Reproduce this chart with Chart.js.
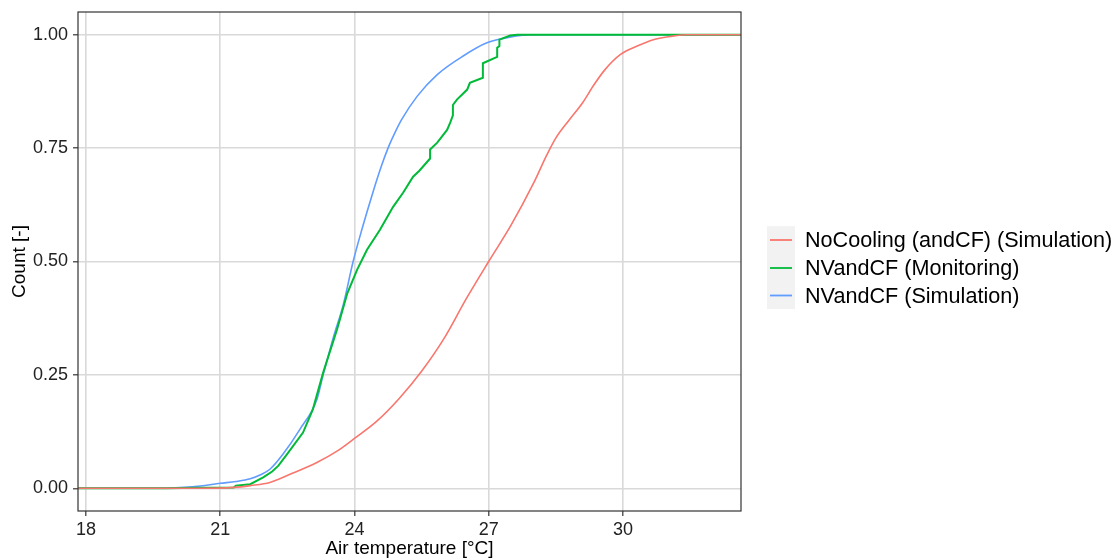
<!DOCTYPE html>
<html>
<head>
<meta charset="utf-8">
<script src="https://cdn.jsdelivr.net/npm/chart.js@4/dist/chart.umd.min.js"></script>
<style>
  html, body { margin: 0; padding: 0; background: #ffffff; }
  canvas { display: block; }
</style>
</head>
<body>
<canvas id="ecdf" width="1120" height="560"></canvas>
<script>
// Series names and colours
const seriesLabels = [
  'NoCooling (andCF) (Simulation)',
  'NVandCF (Monitoring)',
  'NVandCF (Simulation)'
];
const seriesColors = ['#F8766D', '#00BA38', '#619CFF'];

// Axis ticks
const xTicks = [18, 21, 24, 27, 30];
const yTicks = [0, 0.25, 0.5, 0.75, 1];

// NoCooling (andCF) (Simulation): air temperature [°C] and cumulative share
const noCoolingTemp  = [17.82, 20.5, 21.3, 21.67, 22.11, 22.56, 23.16, 23.61, 24.0, 24.5, 25.0, 25.5, 26.0, 26.5, 27.0, 27.5, 28.0, 28.3, 28.5, 28.8, 29.1, 29.35, 29.6, 29.94, 30.32, 30.68, 31.06, 31.44, 32.64];
const noCoolingCount = [0, 0, 0.002, 0.006, 0.013, 0.031, 0.057, 0.082, 0.110, 0.148, 0.198, 0.258, 0.330, 0.418, 0.500, 0.580, 0.672, 0.735, 0.772, 0.812, 0.850, 0.889, 0.923, 0.956, 0.975, 0.989, 0.996, 1.0, 1.0];

// NVandCF (Monitoring): measured values, with the visible jumps kept as vertical steps
const nvMonTemp  = [17.82, 19.8, 20.5, 21.30, 21.35, 21.67, 21.96, 22.16, 22.30, 22.49, 22.85, 23.07, 23.30, 23.61, 23.84, 24.06, 24.28, 24.57, 24.86, 25.09, 25.31, 25.45, 25.69, 25.69, 25.85, 26.07, 26.14, 26.20, 26.20, 26.29, 26.52, 26.58, 26.87, 26.87, 27.19, 27.19, 27.24, 27.24, 27.48, 27.64, 32.64];
const nvMonCount = [0, 0, 0.001, 0.002, 0.006, 0.009, 0.024, 0.037, 0.050, 0.075, 0.123, 0.174, 0.255, 0.350, 0.430, 0.482, 0.526, 0.570, 0.620, 0.652, 0.687, 0.700, 0.727, 0.747, 0.762, 0.790, 0.806, 0.822, 0.845, 0.857, 0.879, 0.894, 0.905, 0.937, 0.951, 0.971, 0.975, 0.989, 0.998, 1.0, 1.0];

// NVandCF (Simulation)
const nvSimTemp  = [17.82, 19.6, 20.2, 20.55, 21.0, 21.35, 21.67, 21.9, 22.11, 22.40, 22.78, 23.16, 23.30, 23.52, 23.75, 23.97, 24.17, 24.42, 24.60, 24.75, 24.90, 25.05, 25.40, 25.85, 26.43, 26.96, 27.55, 27.93, 32.64];
const nvSimCount = [0, 0, 0.002, 0.005, 0.011, 0.015, 0.021, 0.030, 0.042, 0.075, 0.130, 0.196, 0.250, 0.330, 0.405, 0.500, 0.572, 0.655, 0.710, 0.750, 0.783, 0.812, 0.864, 0.912, 0.953, 0.982, 0.996, 1.0, 1.0];

const toPoints = (xs, ys) => xs.map((x, i) => ({ x: x, y: ys[i] }));

const FONT = "'Liberation Sans', Arial, Helvetica, sans-serif";

// Panel frame and the legend to the right of the panel
const panelAndLegend = {
  id: 'panelAndLegend',
  afterDatasetsDraw(chart) {
    const { ctx, chartArea: a } = chart;
    ctx.save();
    ctx.strokeStyle = '#333333';
    ctx.lineWidth = 1.2;
    ctx.strokeRect(a.left, a.top, a.right - a.left, a.bottom - a.top);
    ctx.restore();
  },
  afterDraw(chart) {
    const { ctx } = chart;
    const keyLeft = 767, keyRight = 795;
    const rowCenters = [240, 268, 295.5];
    const rowH = 27.6;
    ctx.save();
    ctx.fillStyle = '#f2f2f2';
    ctx.fillRect(keyLeft, rowCenters[0] - rowH / 2, keyRight - keyLeft, rowH * 3);
    chart.data.datasets.forEach((ds, i) => {
      const cy = rowCenters[i];
      ctx.strokeStyle = ds.borderColor;
      ctx.lineWidth = 1.8;
      ctx.beginPath();
      ctx.moveTo(keyLeft + 3, cy);
      ctx.lineTo(keyRight - 3, cy);
      ctx.stroke();
      ctx.fillStyle = '#000000';
      ctx.font = '21.6px ' + FONT;
      ctx.textAlign = 'left';
      ctx.textBaseline = 'alphabetic';
      ctx.fillText(ds.label, 805, cy + 7);
    });
    ctx.restore();
  }
};

new Chart(document.getElementById('ecdf'), {
  type: 'line',
  data: {
    datasets: [
      {
        label: seriesLabels[0],
        data: toPoints(noCoolingTemp, noCoolingCount),
        borderColor: seriesColors[0],
        borderWidth: 1.6,
        cubicInterpolationMode: 'monotone',
        pointRadius: 0
      },
      {
        label: seriesLabels[1],
        data: toPoints(nvMonTemp, nvMonCount),
        borderColor: seriesColors[1],
        borderWidth: 2,
        tension: 0,
        pointRadius: 0
      },
      {
        label: seriesLabels[2],
        data: toPoints(nvSimTemp, nvSimCount),
        borderColor: seriesColors[2],
        borderWidth: 1.6,
        cubicInterpolationMode: 'monotone',
        pointRadius: 0
      }
    ]
  },
  options: {
    responsive: false,
    animation: false,
    devicePixelRatio: 1,
    layout: { padding: { left: 0, top: 12, right: 379, bottom: 0 } },
    plugins: {
      legend: { display: false },
      tooltip: { enabled: false }
    },
    scales: {
      x: {
        type: 'linear',
        min: 17.82,
        max: 32.64,
        afterBuildTicks: (scale) => { scale.ticks = xTicks.map(v => ({ value: v })); },
        afterFit: (scale) => {
          scale.height = 49;
          scale.paddingLeft = 0;
          scale.paddingRight = 0;
        },
        border: { display: false },
        grid: {
          color: '#d9d9d9',
          lineWidth: 1.6,
          drawTicks: true,
          tickLength: 5,
          tickColor: '#333333',
          tickWidth: 1.2
        },
        ticks: {
          padding: 3,
          color: '#222222',
          font: { family: FONT, size: 18 },
          maxRotation: 0,
          callback: (v) => String(v)
        },
        title: {
          display: true,
          text: 'Air temperature [°C]',
          color: '#000000',
          font: { family: FONT, size: 19 },
          padding: { top: 0, bottom: 0 }
        }
      },
      y: {
        type: 'linear',
        min: -0.05,
        max: 1.05,
        afterBuildTicks: (scale) => { scale.ticks = yTicks.map(v => ({ value: v })); },
        afterFit: (scale) => {
          scale.width = 78;
          scale.paddingTop = 0;
          scale.paddingBottom = 0;
        },
        border: { display: false },
        grid: {
          color: '#d9d9d9',
          lineWidth: 1.6,
          drawTicks: true,
          tickLength: 5,
          tickColor: '#333333',
          tickWidth: 1.2
        },
        ticks: {
          padding: 5,
          color: '#222222',
          font: { family: FONT, size: 18 },
          callback: (v) => Number(v).toFixed(2)
        },
        title: {
          display: true,
          text: 'Count [-]',
          color: '#000000',
          font: { family: FONT, size: 19 },
          padding: { top: 8, bottom: 0 }
        }
      }
    }
  },
  plugins: [panelAndLegend]
});
</script>
</body>
</html>
